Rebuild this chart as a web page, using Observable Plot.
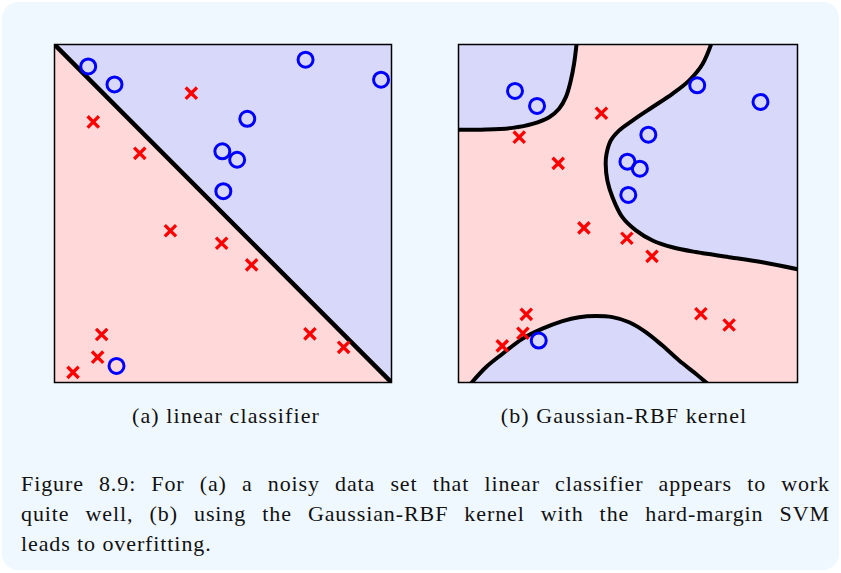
<!DOCTYPE html>
<html>
<head>
<meta charset="utf-8">
<script src="https://cdn.jsdelivr.net/npm/d3@7"></script>
<script src="https://cdn.jsdelivr.net/npm/@observablehq/plot@0.6"></script>
<style>
  html, body { margin: 0; padding: 0; background: #ffffff; }
  #page { position: relative; width: 841px; height: 573px; overflow: hidden; background: #ffffff; }
  #card { position: absolute; left: 2px; top: 2px; width: 837px; height: 568px; background: #f0f8ff; border-radius: 16px; }
  .panel { position: absolute; }
  .sub { position: absolute; font-family: "Liberation Serif", "DejaVu Serif", serif; font-size: 22px; letter-spacing: 1.1px; color: #111; white-space: nowrap; transform: translateX(-50%); }
  .cap { position: absolute; left: 21px; width: 809px; font-family: "Liberation Serif", "DejaVu Serif", serif; font-size: 22px; letter-spacing: 0.9px; color: #111; line-height: 30px; }
  .cap div { text-align: justify; text-align-last: justify; }
  .cap div.last { text-align: left; text-align-last: left; }
</style>
</head>
<body>
<div id="page">
  <div id="card"></div>
  <div id="left" class="panel" style="left:50px; top:40px;"></div>
  <div id="right" class="panel" style="left:454px; top:40px;"></div>
  <div class="sub" style="left:226px; top:403px;">(a) linear classifier</div>
  <div class="sub" style="left:624px; top:403px;">(b) Gaussian-RBF kernel</div>
  <div class="cap" style="top:469px;">
    <div>Figure 8.9: For (a) a noisy data set that linear classifier appears to work</div>
    <div>quite well, (b) using the Gaussian-RBF kernel with the hard-margin SVM</div>
    <div class="last">leads to overfitting.</div>
  </div>
</div>
<script>
// ---- Data ----
const circleX = [0.100, 0.178, 0.745, 0.969, 0.572, 0.498, 0.542, 0.501, 0.184];
const circleY = [0.935, 0.882, 0.955, 0.896, 0.780, 0.684, 0.659, 0.566, 0.049];
const crossX = [0.406, 0.115, 0.253, 0.344, 0.496, 0.585, 0.140, 0.128, 0.055, 0.758, 0.858];
const crossY = [0.856, 0.771, 0.678, 0.449, 0.412, 0.348, 0.142, 0.075, 0.030, 0.144, 0.104];

// linear classifier boundary (panel a)
const linearX = [0, 1];
const linearY = [1, 0];

// RBF decision boundaries (panel b)
const tlCurveX = [-0.12, -0.003, 0.091, 0.162, 0.221, 0.256, 0.280, 0.2975, 0.309, 0.320];
const tlCurveY = [0.797, 0.798, 0.804, 0.818, 0.842, 0.872, 0.913, 0.972, 1.031, 1.12];
const rCurveX = [0.801, 0.764, 0.716, 0.657, 0.587, 0.516, 0.469, 0.439, 0.424, 0.421, 0.427, 0.445, 0.480, 0.528, 0.587, 0.657, 0.740, 0.858, 0.976, 1.12];
const rCurveY = [1.12, 1.031, 0.972, 0.925, 0.878, 0.830, 0.795, 0.759, 0.712, 0.676, 0.617, 0.558, 0.487, 0.440, 0.404, 0.380, 0.363, 0.345, 0.327, 0.298];
const bCurveX = [-0.07, -0.003, 0.056, 0.126, 0.197, 0.268, 0.327, 0.386, 0.445, 0.504, 0.563, 0.622, 0.681, 0.740, 0.800];
const bCurveY = [-0.12, -0.046, 0.002, 0.055, 0.091, 0.118, 0.132, 0.136, 0.132, 0.114, 0.079, 0.031, -0.022, -0.069, -0.12];

const domainA = [0, 1];
const domainB = [-0.1, 1.1];

// ---- Styles ----
const pink = "#ffd9d9";
const lav = "#d8d8fa";
const blue = "#0000ff";
const red = "#ff0000";

const zip = (xs, ys) => xs.map((x, i) => ({x, y: ys[i]}));
const circles = zip(circleX, circleY);
const crosses = zip(crossX, crossY);
const linear = zip(linearX, linearY);
const tl = zip(tlCurveX, tlCurveY);
const rc = zip(rCurveX, rCurveY);
const bc = zip(bCurveX, bCurveY);

function pointMarks() {
  return [
    Plot.dot(circles, {x: "x", y: "y", r: 7.5, stroke: blue, strokeWidth: 3, fill: "none"}),
    Plot.dot(crosses, {x: "x", y: "y", symbol: "times", r: 5.2, stroke: red, strokeWidth: 3.3})
  ];
}

const common = {
  width: 345, height: 346,
  marginLeft: 4, marginRight: 4, marginTop: 4, marginBottom: 4,
  style: {background: "transparent", overflow: "visible"}
};

const plotA = Plot.plot({
  ...common,
  x: {domain: domainA, axis: null},
  y: {domain: domainA, axis: null},
  marks: [
    Plot.frame({fill: pink}),
    Plot.areaY(linear, {x: "x", y1: "y", y2: () => domainA[1], fill: lav, clip: true}),
    Plot.line(linear, {x: "x", y: "y", stroke: "black", strokeWidth: 4.5, clip: true}),
    ...pointMarks(),
    Plot.frame({stroke: "black", strokeWidth: 1.5})
  ]
});
document.getElementById("left").appendChild(plotA);

const plotB = Plot.plot({
  ...common,
  width: 347,
  x: {domain: domainB, axis: null},
  y: {domain: domainB, axis: null},
  marks: [
    Plot.frame({fill: pink}),
    Plot.areaY(tl, {x: "x", y1: "y", y2: () => 1.2, fill: lav, curve: "catmull-rom", clip: true}),
    Plot.areaX(rc, {y: "y", x1: "x", x2: () => 1.2, fill: lav, curve: "catmull-rom", clip: true}),
    Plot.areaY(bc, {x: "x", y1: () => -0.2, y2: "y", fill: lav, curve: "catmull-rom", clip: true}),
    Plot.line(tl, {x: "x", y: "y", stroke: "black", strokeWidth: 4, curve: "catmull-rom", clip: true}),
    Plot.line(rc, {x: "x", y: "y", stroke: "black", strokeWidth: 4, curve: "catmull-rom", clip: true}),
    Plot.line(bc, {x: "x", y: "y", stroke: "black", strokeWidth: 4, curve: "catmull-rom", clip: true}),
    ...pointMarks(),
    Plot.frame({stroke: "black", strokeWidth: 1.5})
  ]
});
document.getElementById("right").appendChild(plotB);
</script>
</body>
</html>
